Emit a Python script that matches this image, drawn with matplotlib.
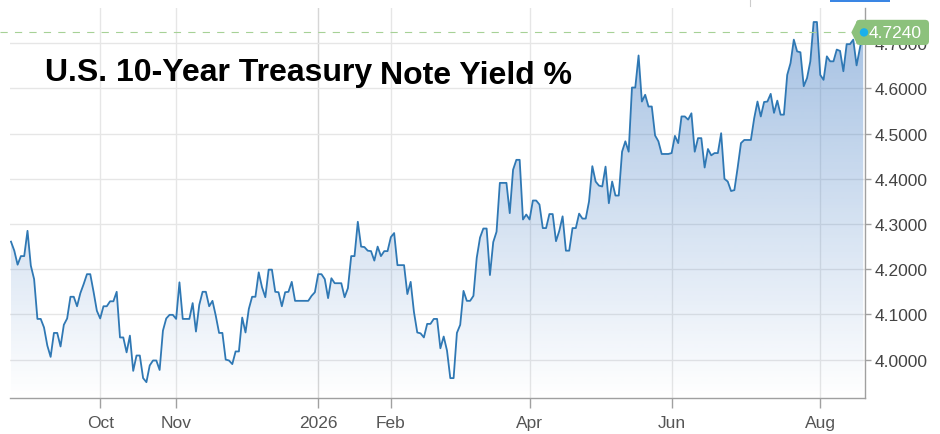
import numpy as np
import pandas as pd
import matplotlib
matplotlib.use('Agg')
import matplotlib.pyplot as plt
from matplotlib.patches import Polygon, Rectangle, Circle, FancyBboxPatch
from matplotlib.lines import Line2D
import matplotlib.transforms as mtransforms

plt.rcParams['font.family'] = ['Liberation Sans', 'DejaVu Sans']

# ---------------- data ----------------
start_date = '2025-08-25'   # first trading day shown
yields = [
    4.261, 4.241, 4.210, 4.229, 4.229, 4.285, 4.208, 4.178, 4.090, 4.090,
    4.071, 4.031, 4.006, 4.059, 4.059, 4.029, 4.077, 4.091, 4.139, 4.139,
    4.118, 4.147, 4.167, 4.189, 4.189, 4.150, 4.108, 4.091, 4.118, 4.118,
    4.129, 4.129, 4.150, 4.049, 4.049, 4.016, 4.053, 3.975, 4.009, 4.009,
    3.959, 3.950, 3.987, 3.998, 3.998, 3.977, 4.064, 4.091, 4.099, 4.099,
    4.090, 4.171, 4.090, 4.090, 4.090, 4.125, 4.062, 4.121, 4.150, 4.150,
    4.118, 4.130, 4.097, 4.059, 4.059, 4.000, 3.998, 3.990, 4.018, 4.018,
    4.093, 4.060, 4.112, 4.139, 4.139, 4.193, 4.160, 4.138, 4.199, 4.199,
    4.150, 4.149, 4.118, 4.149, 4.150, 4.172, 4.130, 4.130, 4.130, 4.130,
    4.130, 4.141, 4.149, 4.189, 4.189, 4.178, 4.136, 4.180, 4.169, 4.169,
    4.169, 4.138, 4.158, 4.229, 4.229, 4.305, 4.250, 4.249, 4.241, 4.240,
    4.219, 4.250, 4.229, 4.240, 4.240, 4.271, 4.280, 4.209, 4.209, 4.209,
    4.145, 4.172, 4.105, 4.060, 4.058, 4.049, 4.079, 4.079, 4.090, 4.090,
    4.025, 4.051, 4.020, 3.959, 3.959, 4.059, 4.077, 4.152, 4.130, 4.130,
    4.141, 4.225, 4.270, 4.290, 4.290, 4.187, 4.260, 4.283, 4.391, 4.391,
    4.391, 4.324, 4.420, 4.442, 4.442, 4.310, 4.321, 4.310, 4.352, 4.352,
    4.343, 4.291, 4.291, 4.322, 4.322, 4.262, 4.285, 4.317, 4.241, 4.241,
    4.291, 4.291, 4.323, 4.312, 4.312, 4.350, 4.428, 4.394, 4.385, 4.383,
    4.427, 4.346, 4.394, 4.363, 4.363, 4.460, 4.483, 4.460, 4.602, 4.602,
    4.673, 4.571, 4.586, 4.560, 4.560, 4.496, 4.483, 4.455, 4.455, 4.455,
    4.457, 4.495, 4.479, 4.538, 4.538, 4.531, 4.545, 4.460, 4.490, 4.490,
    4.425, 4.466, 4.452, 4.457, 4.457, 4.501, 4.400, 4.394, 4.373, 4.375,
    4.425, 4.479, 4.486, 4.486, 4.486, 4.534, 4.571, 4.538, 4.570, 4.571,
    4.588, 4.546, 4.573, 4.542, 4.542, 4.630, 4.656, 4.708, 4.682, 4.680,
    4.605, 4.623, 4.660, 4.747, 4.747, 4.630, 4.619, 4.671, 4.660, 4.660,
    4.686, 4.683, 4.638, 4.698, 4.698, 4.708, 4.651, 4.689, 4.724,
]
tick_dates = ['2025-10-01', '2025-11-01', '2026-01-01', '2026-02-01',
              '2026-04-01', '2026-06-01', '2026-08-01']
tick_labels = ['Oct', 'Nov', '2026', 'Feb', 'Apr', 'Jun', 'Aug']
y_ticks = [4.0, 4.1, 4.2, 4.3, 4.4, 4.5, 4.6, 4.7]
last_label = '4.7240'
title_left = 'U.S. 10-Year Treasury'
title_right = 'Note Yield %'

# ------------- derived positions (ordinal trading-day axis) -------------
dates = pd.bdate_range(start_date, periods=len(yields))
xs = np.arange(len(yields))
tick_pos = dates.searchsorted(pd.to_datetime(tick_dates))
last = yields[-1]

W, H = 940, 435
fig = plt.figure(figsize=(W / 100, H / 100), dpi=100)
px = mtransforms.Affine2D().scale(1 / W, -1 / H).translate(0, 1) + fig.transFigure

ax = fig.add_axes([10 / W, 1 - 399 / H, 855 / W, 390 / H])
x0, x1 = xs[0] - 0.3, xs[-1] + 0.55
ymin, ymax = 3.915, 4.778
ax.set_xlim(x0, x1)
ax.set_ylim(ymin, ymax)

# grid
ax.set_axisbelow(True)
ax.set_yticks(y_ticks)
ax.set_yticklabels([f'{v:.4f}' for v in y_ticks])
ax.set_xticks(tick_pos)
ax.set_xticklabels(tick_labels)
ax.grid(True, color='#e6e6e6', lw=1.0)
for gl, lab in zip(ax.get_xgridlines(), tick_labels):
    if lab == '2026':
        gl.set_color('#d6d6d6')

# gradient area fill
verts = [(xs[0], ymin)] + list(zip(xs, yields)) + [(xs[-1], ymin)]
poly = Polygon(verts, closed=True, facecolor='none', edgecolor='none')
ax.add_patch(poly)
n = 256
grad = np.zeros((n, 1, 4))
base = np.array([0.20, 0.45, 0.75])
a = np.linspace(0.46, 0.0, n)
grad[:, 0, :3] = base
grad[:, 0, 3] = a
im = ax.imshow(grad, extent=[x0, x1, ymin, ymax], origin='upper',
               aspect='auto', zorder=1, interpolation='bilinear')
im.set_clip_path(poly)

# line
ax.plot(xs, yields, color='#2f78b4', lw=1.3, zorder=3, solid_joinstyle='round')

# spines / ticks
for s in ('top', 'left'):
    ax.spines[s].set_visible(False)
for s in ('bottom', 'right'):
    ax.spines[s].set_color('#a0a0a0')
    ax.spines[s].set_linewidth(1.0)
ax.yaxis.tick_right()
ax.tick_params(axis='y', length=4, width=1, color='#a0a0a0', pad=3,
               labelsize=12.5, labelcolor='#444444')
ax.tick_params(axis='x', length=7, width=1, color='#a0a0a0', pad=5,
               labelsize=12.5, labelcolor='#555555')

# dashed last-value line
blend = mtransforms.blended_transform_factory(fig.transFigure, ax.transData)
fig.add_artist(Line2D([0, 851 / W], [last, last], transform=blend,
                      color='#a6d196', lw=0.8, dashes=(6.5, 6.5), zorder=2))

# last value tag
yc = (1 - fig.transFigure.inverted().transform(
    ax.transData.transform((0, last)))[1]) * H
tag_col = '#8cc17c'
fig.add_artist(FancyBboxPatch((856, yc - 12.6), 73, 25.2,
                              boxstyle='round,pad=0,rounding_size=4',
                              transform=px, facecolor=tag_col,
                              edgecolor='none', zorder=10))
fig.add_artist(Polygon([(851.3, yc), (857.5, yc - 12.6), (857.5, yc + 12.6)],
                       closed=True, transform=px, facecolor=tag_col,
                       edgecolor='none', zorder=10))
fig.add_artist(Circle((864, yc), 4.2, transform=px, facecolor='#1ab0ec',
                      edgecolor='none', zorder=11))
fig.text(868.5, yc + 0.5, last_label, transform=px, color='white',
         fontsize=12.5, ha='left', va='center', zorder=12)

# title
fig.text(45, 81, title_left, transform=px, fontsize=23, fontweight='bold',
         color='black', ha='left', va='baseline')
fig.text(380, 83.5, title_right, transform=px, fontsize=23, fontweight='bold',
         color='black', ha='left', va='baseline')

# decorative bits at top edge
fig.add_artist(Rectangle((830, 0), 60, 3.4, transform=px, facecolor='#3a86e4',
                         edgecolor='none'))
fig.add_artist(Line2D([750, 750], [0, 7], transform=px, color='#cccccc', lw=0.8))

fig.savefig('out.png', dpi=100)
